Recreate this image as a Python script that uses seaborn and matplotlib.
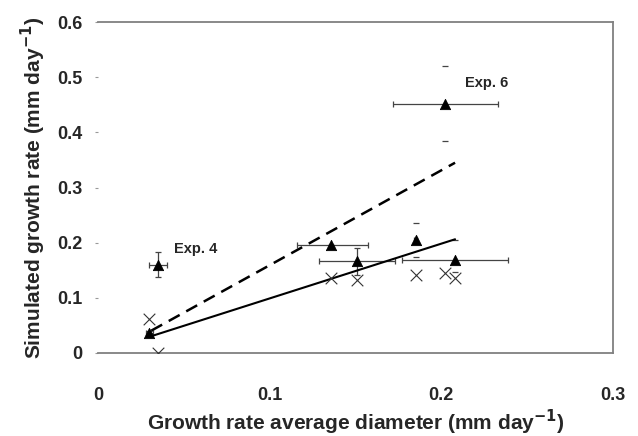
import numpy as np
import pandas as pd
import matplotlib
matplotlib.use("Agg")
import matplotlib.pyplot as plt
import seaborn as sns

# Measured vs simulated growth rate (triangles) with error bars
obs_x = [0.030, 0.035, 0.136, 0.151, 0.185, 0.202, 0.208]
obs_y = [0.035, 0.159, 0.195, 0.166, 0.204, 0.452, 0.169]
obs_xerr_lo = [0.002, 0.005, 0.020, 0.022, 0.001, 0.030, 0.031]
obs_xerr_hi = [0.002, 0.005, 0.021, 0.022, 0.001, 0.031, 0.031]
obs_yerr_lo = [0.004, 0.021, 0.000, 0.025, 0.031, 0.067, 0.023]
obs_yerr_hi = [0.004, 0.024, 0.000, 0.024, 0.031, 0.068, 0.035]
# whisker line drawn (True) or only the caps (False)
yerr_line = [True, True, True, True, False, False, False]

# Second simulation (crosses)
alt_x = [0.030, 0.035, 0.136, 0.151, 0.185, 0.202, 0.208]
alt_y = [0.062, 0.000, 0.135, 0.132, 0.141, 0.144, 0.135]

# Trend lines (end points)
dash_x = [0.031, 0.208]
dash_y = [0.040, 0.345]
solid_x = [0.031, 0.208]
solid_y = [0.030, 0.206]

notes = ["Exp. 4", "Exp. 6"]
note_x = [0.044, 0.214]
note_y = [0.189, 0.490]

sns.set_style("white")
plt.rcParams["font.family"] = ["Liberation Sans", "DejaVu Sans"]

fig = plt.figure(figsize=(6.38, 4.36), dpi=100)
ax = fig.add_axes([0.1536, 0.191, 0.8072, 0.7579])

ecol = "#444444"
ax.errorbar(obs_x, obs_y, xerr=[obs_xerr_lo, obs_xerr_hi], fmt="none",
            ecolor=ecol, elinewidth=0.9, capsize=2, capthick=0.9, zorder=2)
for i in range(len(obs_x)):
    ax.errorbar([obs_x[i]], [obs_y[i]],
                yerr=[[obs_yerr_lo[i]], [obs_yerr_hi[i]]], fmt="none",
                ecolor=ecol, elinewidth=0.9 if yerr_line[i] else 0,
                capsize=2, capthick=0.9, zorder=2)

sns.lineplot(x=dash_x, y=dash_y, color="black", linewidth=1.8,
             linestyle=(0, (5, 3)), ax=ax, zorder=3)
sns.lineplot(x=solid_x, y=solid_y, color="black", linewidth=1.5, ax=ax, zorder=3)

sns.scatterplot(x=alt_x, y=alt_y, marker="x", s=70, color="#333333",
                linewidth=0.8, ax=ax, zorder=4)
sns.scatterplot(x=obs_x, y=obs_y, marker="^", s=55, color="black",
                edgecolor="black", ax=ax, zorder=5)

for t, x, y in zip(notes, note_x, note_y):
    ax.text(x, y, t, fontsize=10.5, fontweight="bold", va="center", ha="left")

ax.set_xlim(0, 0.3)
ax.set_ylim(0, 0.6)
ax.set_xticks([0, 0.1, 0.2, 0.3])
ax.set_xticklabels(["0", "0.1", "0.2", "0.3"])
ax.set_yticks([0, 0.1, 0.2, 0.3, 0.4, 0.5, 0.6])
ax.set_yticklabels(["0", "0.1", "0.2", "0.3", "0.4", "0.5", "0.6"])

for s in ["top", "right", "bottom"]:
    ax.spines[s].set_visible(True)
    ax.spines[s].set_color("#808080")
    ax.spines[s].set_linewidth(1.3)
ax.spines["left"].set_visible(False)

ax.tick_params(axis="y", left=True, length=2, color="#999999", pad=9,
               labelsize=13)
ax.tick_params(axis="x", bottom=False, pad=21, labelsize=13)
for lab in ax.get_xticklabels() + ax.get_yticklabels():
    lab.set_fontweight("bold")

ax.set_xlabel("Growth rate average diameter (mm day$^{\\mathbf{-1}}$)",
              fontsize=15, fontweight="bold", labelpad=3)
ax.set_ylabel("Simulated growth rate (mm day$^{\\mathbf{-1}}$)",
              fontsize=15, fontweight="bold", labelpad=7)

fig.savefig("out.png", dpi=100)
